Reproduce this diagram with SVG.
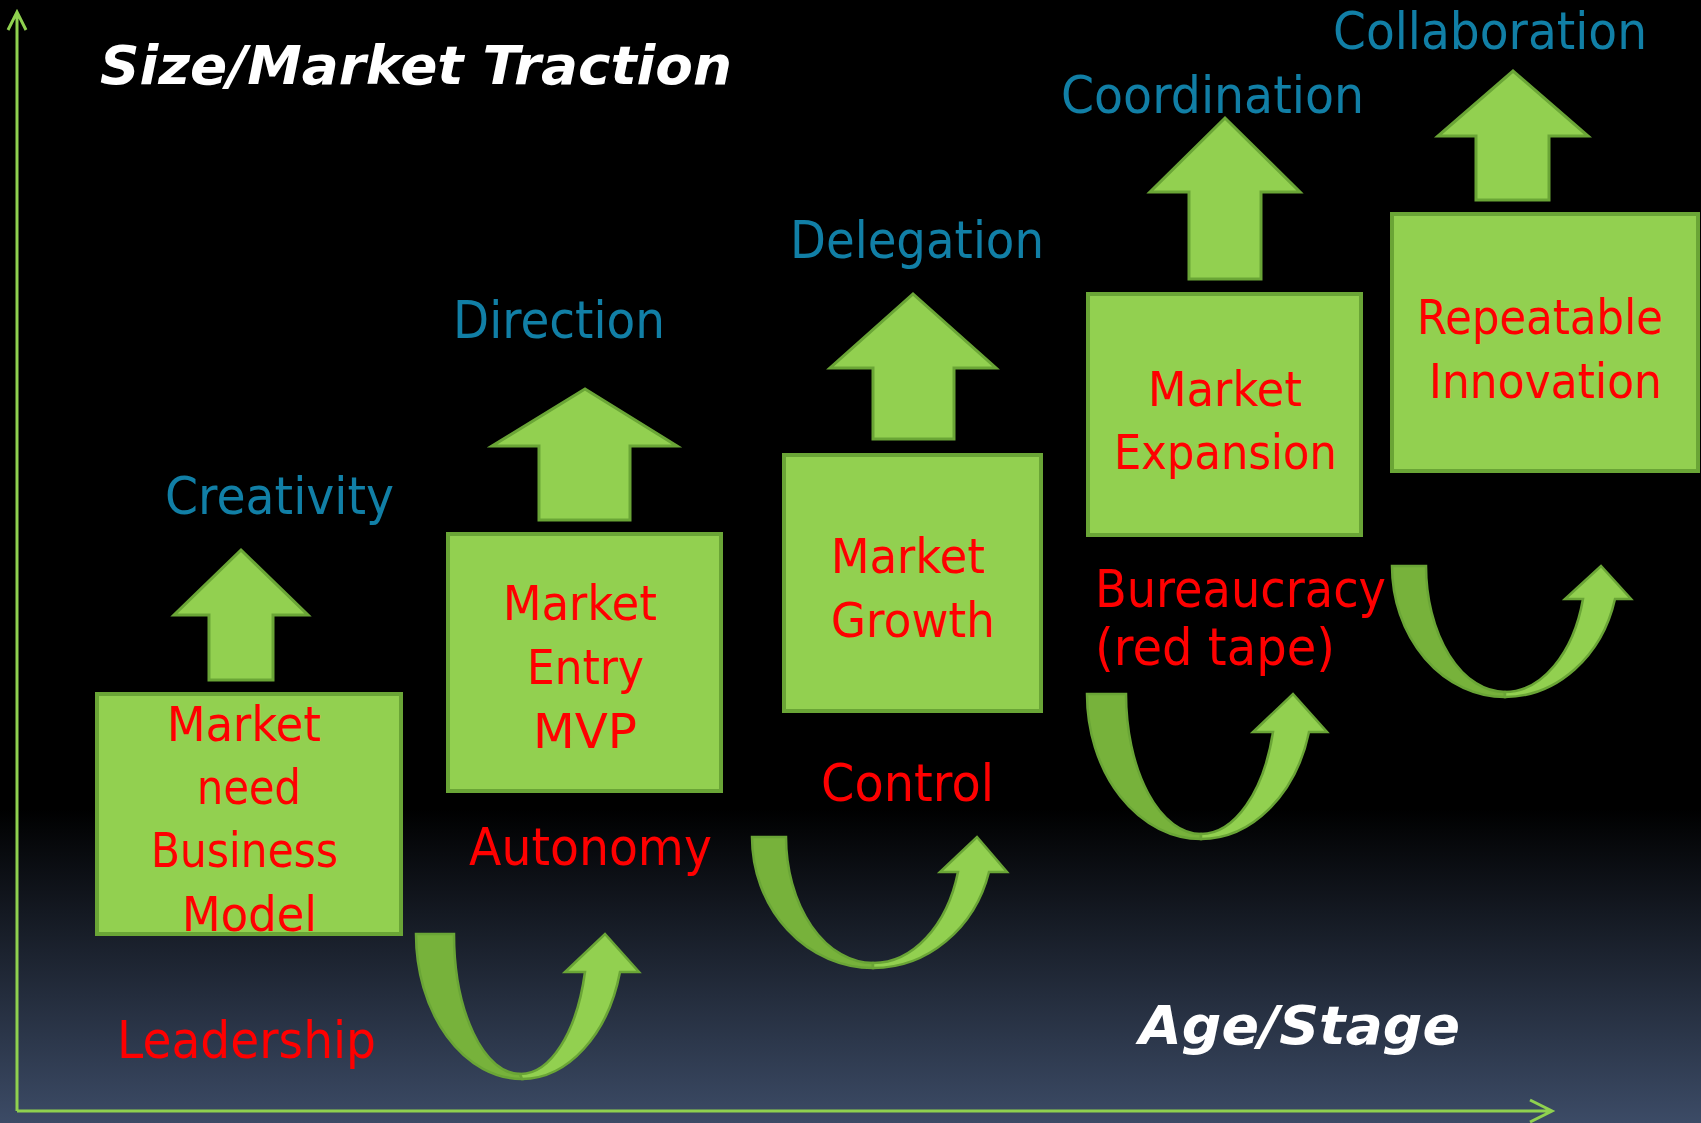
<svg xmlns="http://www.w3.org/2000/svg" width="1701" height="1123" viewBox="0 0 1701 1123">
<defs>
<linearGradient id="bg" x1="0" y1="0" x2="0" y2="1">
<stop offset="0" stop-color="#000000"/>
<stop offset="0.72" stop-color="#000000"/>
<stop offset="1" stop-color="#3c4b66"/>
</linearGradient>
<style>
.box{fill:#92d050;stroke:#6aa536;stroke-width:4}
.up{fill:#92d050;stroke:#6aa536;stroke-width:3;stroke-linejoin:miter}
.ul{fill:#77b23b;stroke:#6aa536;stroke-width:2.5}
.ur{fill:#92d050;stroke:#6aa536;stroke-width:2.5;stroke-linejoin:miter}
.axis{fill:none;stroke:#8fd14f;stroke-width:3}
.t{font-family:"DejaVu Sans","Liberation Sans",sans-serif}
.blue{fill:#117fa6;font-size:52px}
.red{fill:#ff0000;font-size:52px}
.bt{fill:#ff0000;font-size:48px}
.title{fill:#ffffff;font-size:54px;font-weight:bold;font-style:italic}
</style>
</defs>
<rect x="0" y="0" width="1701" height="1123" fill="url(#bg)"/>

<g id="axes">
<path class="axis" d="M17,1111 L17,12 M8,30 L17,12 L26,30"/>
<path class="axis" d="M17,1111 L1552,1111 M1530,1100 L1552,1111 L1530,1122"/>
</g>

<g id="title">
<text class="t title" x="100" y="84" textLength="632" lengthAdjust="spacingAndGlyphs">Size/Market Traction</text>
<text class="t title" x="1139" y="1044" textLength="321" lengthAdjust="spacingAndGlyphs">Age/Stage</text>
</g>

<g id="connectors">
<path class="up" d="M209,680 L209,615 L174,615 L241,550 L308,615 L273,615 L273,680 Z"/>
<path class="up" d="M539,520 L539,446 L492,446 L585,389 L677,446 L630,446 L630,520 Z"/>
<path class="up" d="M873,439 L873,368 L830,368 L913,294 L996,368 L954,368 L954,439 Z"/>
<path class="up" d="M1189,279 L1189,192 L1150,192 L1225,118 L1300,192 L1261,192 L1261,279 Z"/>
<path class="up" d="M1476,200 L1476,136 L1438,136 L1513,71 L1588,136 L1549,136 L1549,200 Z"/>

<path class="ul" d="M416,934 L454,934 A66,140 0 0 0 520,1074 L522,1079 A106,145 0 0 1 416,934 Z"/>
<path class="ur" d="M520,1074 A67,140 0 0 0 585,972 L565,972 L605,934 L639,972 L620,972 A102,145 0 0 1 522,1079 Z"/>

<path class="ul" d="M752,837 L786,837 A87,126 0 0 0 873,963 L873,968 A121,131 0 0 1 752,837 Z"/>
<path class="ur" d="M873,963 A88,126 0 0 0 958,872 L940,872 L977,837 L1007,872 L989,872 A120,131 0 0 1 873,968 Z"/>

<path class="ul" d="M1087,694 L1126,694 A75,140 0 0 0 1201,834 L1201,839 A114,145 0 0 1 1087,694 Z"/>
<path class="ur" d="M1201,834 A75,140 0 0 0 1273,732 L1253,732 L1293,694 L1327,732 L1309,732 A112,145 0 0 1 1201,839 Z"/>

<path class="ul" d="M1392,566 L1426,566 A79,126 0 0 0 1505,692 L1505,697 A113,131 0 0 1 1392,566 Z"/>
<path class="ur" d="M1505,692 A81,126 0 0 0 1583,599 L1565,599 L1601,566 L1631,599 L1615,599 A114,131 0 0 1 1505,697 Z"/>
</g>

<g id="node1">
<rect class="box" x="97" y="694" width="304" height="240"/>
<text class="t bt" x="167" y="741" textLength="154" lengthAdjust="spacingAndGlyphs">Market</text>
<text class="t bt" x="197" y="804" textLength="104" lengthAdjust="spacingAndGlyphs">need</text>
<text class="t bt" x="151" y="867" textLength="187" lengthAdjust="spacingAndGlyphs">Business</text>
<text class="t bt" x="182" y="931" textLength="135" lengthAdjust="spacingAndGlyphs">Model</text>
</g>
<g id="node2">
<rect class="box" x="448" y="534" width="273" height="257"/>
<text class="t bt" x="503" y="620" textLength="154" lengthAdjust="spacingAndGlyphs">Market</text>
<text class="t bt" x="527" y="684" textLength="117" lengthAdjust="spacingAndGlyphs">Entry</text>
<text class="t bt" x="533" y="748" textLength="104" lengthAdjust="spacingAndGlyphs">MVP</text>
</g>
<g id="node3">
<rect class="box" x="784" y="455" width="257" height="256"/>
<text class="t bt" x="831" y="573" textLength="154" lengthAdjust="spacingAndGlyphs">Market</text>
<text class="t bt" x="831" y="637" textLength="164" lengthAdjust="spacingAndGlyphs">Growth</text>
</g>
<g id="node4">
<rect class="box" x="1088" y="294" width="273" height="241"/>
<text class="t bt" x="1148" y="406" textLength="154" lengthAdjust="spacingAndGlyphs">Market</text>
<text class="t bt" x="1114" y="469" textLength="223" lengthAdjust="spacingAndGlyphs">Expansion</text>
</g>
<g id="node5">
<rect class="box" x="1392" y="214" width="306" height="257"/>
<text class="t bt" x="1417" y="334" textLength="246" lengthAdjust="spacingAndGlyphs">Repeatable</text>
<text class="t bt" x="1429" y="398" textLength="233" lengthAdjust="spacingAndGlyphs">Innovation</text>
</g>

<g id="labels-blue">
<text class="t blue" x="165" y="514" textLength="229" lengthAdjust="spacingAndGlyphs">Creativity</text>
<text class="t blue" x="453" y="338" textLength="212" lengthAdjust="spacingAndGlyphs">Direction</text>
<text class="t blue" x="790" y="258" textLength="254" lengthAdjust="spacingAndGlyphs">Delegation</text>
<text class="t blue" x="1061" y="113" textLength="303" lengthAdjust="spacingAndGlyphs">Coordination</text>
<text class="t blue" x="1333" y="49" textLength="314" lengthAdjust="spacingAndGlyphs">Collaboration</text>
</g>

<g id="labels-red">
<text class="t red" x="117" y="1058" textLength="259" lengthAdjust="spacingAndGlyphs">Leadership</text>
<text class="t red" x="469" y="865" textLength="243" lengthAdjust="spacingAndGlyphs">Autonomy</text>
<text class="t red" x="821" y="801" textLength="173" lengthAdjust="spacingAndGlyphs">Control</text>
<text class="t red" x="1095" y="607" textLength="291" lengthAdjust="spacingAndGlyphs">Bureaucracy</text>
<text class="t red" x="1095" y="665" textLength="240" lengthAdjust="spacingAndGlyphs">(red tape)</text>
</g>
</svg>
